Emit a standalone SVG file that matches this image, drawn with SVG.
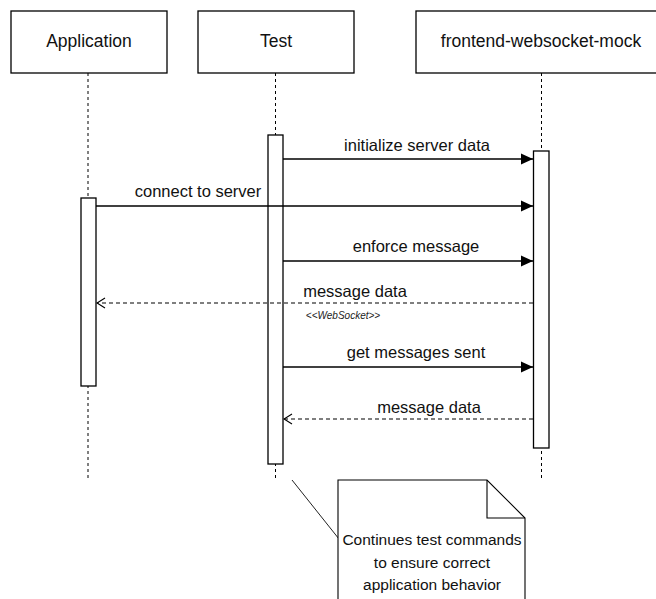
<svg xmlns="http://www.w3.org/2000/svg" width="656" height="599" viewBox="0 0 656 599">
  <defs>
    <style>
      .box { fill: #ffffff; stroke: #000000; stroke-width: 1.3; }
      .act { fill: #ffffff; stroke: #000000; stroke-width: 1.3; }
      .life { stroke: #000000; stroke-width: 1; stroke-dasharray: 3 3; fill: none; }
      .msg { stroke: #000000; stroke-width: 1.4; fill: none; }
      .ret { stroke: #000000; stroke-width: 1.1; fill: none; stroke-dasharray: 4 3; }
      .title { font-family: "Liberation Sans", Arial, sans-serif; font-size: 17.5px; fill: #111111; text-anchor: middle; }
      .lbl { font-family: "Liberation Sans", Arial, sans-serif; font-size: 16.5px; fill: #111111; text-anchor: middle; }
      .stereo { font-family: "Liberation Sans", Arial, sans-serif; font-size: 10px; font-style: italic; fill: #222222; text-anchor: middle; }
      .note { fill: #ffffff; stroke: #000000; stroke-width: 1.1; }
      .notetxt { font-family: "Liberation Sans", Arial, sans-serif; font-size: 15.5px; fill: #111111; text-anchor: middle; }
    </style>
    <marker id="filled" viewBox="0 0 12 12" markerWidth="12" markerHeight="12" refX="12" refY="6" orient="auto" markerUnits="userSpaceOnUse">
      <path d="M0,0.5 L12,6 L0,11.5 Z" fill="#000000"/>
    </marker>
    <marker id="open" viewBox="0 0 10 12" markerWidth="10" markerHeight="12" refX="9" refY="6" orient="auto" markerUnits="userSpaceOnUse">
      <path d="M1,1 L9,6 L1,11" fill="none" stroke="#000000" stroke-width="1.1"/>
    </marker>
  </defs>
  <rect width="656" height="599" fill="#ffffff"/>

  <g id="lifeline-application">
    <rect class="box" x="11" y="11" width="156" height="62"/>
    <text class="title" x="89" y="47">Application</text>
    <line class="life" x1="88" y1="73" x2="88" y2="480"/>
    <rect class="act" x="81" y="198" width="15" height="188"/>
  </g>

  <g id="lifeline-test">
    <rect class="box" x="198" y="11" width="156" height="62"/>
    <text class="title" x="276" y="47">Test</text>
    <line class="life" x1="275.5" y1="73" x2="275.5" y2="480"/>
    <rect class="act" x="268" y="135" width="15" height="329"/>
  </g>

  <g id="lifeline-mock">
    <rect class="box" x="416" y="11" width="250" height="62"/>
    <text class="title" x="541" y="47">frontend-websocket-mock</text>
    <line class="life" x1="541.5" y1="73" x2="541.5" y2="480"/>
    <rect class="act" x="533.5" y="151" width="15.5" height="297"/>
  </g>

  <g id="connectors">
    <line class="msg" x1="283" y1="159" x2="533" y2="159" marker-end="url(#filled)"/>
    <text class="lbl" x="417" y="151">initialize server data</text>

    <line class="msg" x1="96" y1="206" x2="533" y2="206" marker-end="url(#filled)"/>
    <text class="lbl" x="198" y="197">connect to server</text>

    <line class="msg" x1="283" y1="261" x2="533" y2="261" marker-end="url(#filled)"/>
    <text class="lbl" x="416" y="252">enforce message</text>

    <line class="ret" x1="533" y1="303" x2="97" y2="303" marker-end="url(#open)"/>
    <text class="lbl" x="355" y="297">message data</text>
    <text class="stereo" x="343" y="319">&lt;&lt;WebSocket&gt;&gt;</text>

    <line class="msg" x1="283" y1="367" x2="533" y2="367" marker-end="url(#filled)"/>
    <text class="lbl" x="416" y="358">get messages sent</text>

    <line class="ret" x1="533" y1="419" x2="284" y2="419" marker-end="url(#open)"/>
    <text class="lbl" x="429" y="413">message data</text>

    <line x1="292" y1="480" x2="339" y2="539" stroke="#222222" stroke-width="1"/>
  </g>

  <g id="note">
    <path class="note" d="M338,480 L487,480 L525,518 L525,605 L338,605 Z"/>
    <path d="M487,480 L487,518 L525,518" fill="none" stroke="#000000" stroke-width="1.1"/>
    <text class="notetxt" x="432" y="545">Continues test commands</text>
    <text class="notetxt" x="432" y="567.5">to ensure correct</text>
    <text class="notetxt" x="432" y="590">application behavior</text>
  </g>
</svg>
